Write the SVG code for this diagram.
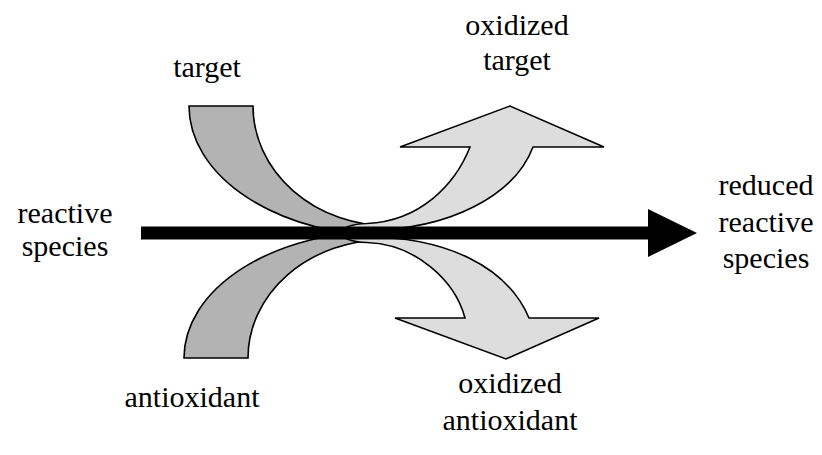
<svg xmlns="http://www.w3.org/2000/svg" width="822" height="455" viewBox="0 0 822 455" font-family="Times New Roman">
<style>
.dark{fill:#b3b3b3;stroke:#000;stroke-width:1.6}
.light{fill:#dddddd;stroke:#000;stroke-width:1.6}
text{font-family:"Times New Roman";font-size:30px;text-anchor:middle;fill:#000}
</style>
<rect width="822" height="455" fill="#fff"/>
<g id="target-shape">
<path class="dark" d="M189,106 L253,106 A137,120 0 0 0 390,226 L390,236 A201,130 0 0 1 189,106 Z"/>
</g>
<g id="antioxidant-shape">
<path class="dark" d="M184,358 L248,358 A136,118 0 0 1 384,240 L384,231 A200,127 0 0 0 184,358 Z"/>
</g>
<g id="oxidized-target-shape">
<path class="light" d="M347,227 Q356,223.5 367,223.5 C420,221 455,185 470,147 L400,147 L510,106 L604,147 L533,147 C515,195 450,230 367,230 L347,232 Z"/>
</g>
<g id="oxidized-antioxidant-shape">
<path class="light" d="M347,234 L367,237 C445,237 507,266 529,318 L599,318 L506,359 L395,318 L465,318 C455,280 415,244 367,242.5 Q356,242.5 347,239 Z"/>
</g>
<g id="connectors">
<rect x="141" y="226.5" width="508" height="13" fill="#000"/>
<polygon points="648,209 697,233 648,257" fill="#000"/>
</g>
<g id="label-reactive-species">
<text x="65" y="223">reactive</text>
<text x="65" y="256">species</text>
</g>
<g id="label-target">
<text x="207" y="77">target</text>
</g>
<g id="label-oxidized-target">
<text x="517" y="35">oxidized</text>
<text x="517" y="70">target</text>
</g>
<g id="label-reduced-reactive-species">
<text x="766" y="195">reduced</text>
<text x="766" y="232">reactive</text>
<text x="766" y="268">species</text>
</g>
<g id="label-antioxidant">
<text x="192" y="407">antioxidant</text>
</g>
<g id="label-oxidized-antioxidant">
<text x="510" y="393">oxidized</text>
<text x="510" y="430">antioxidant</text>
</g>
</svg>
